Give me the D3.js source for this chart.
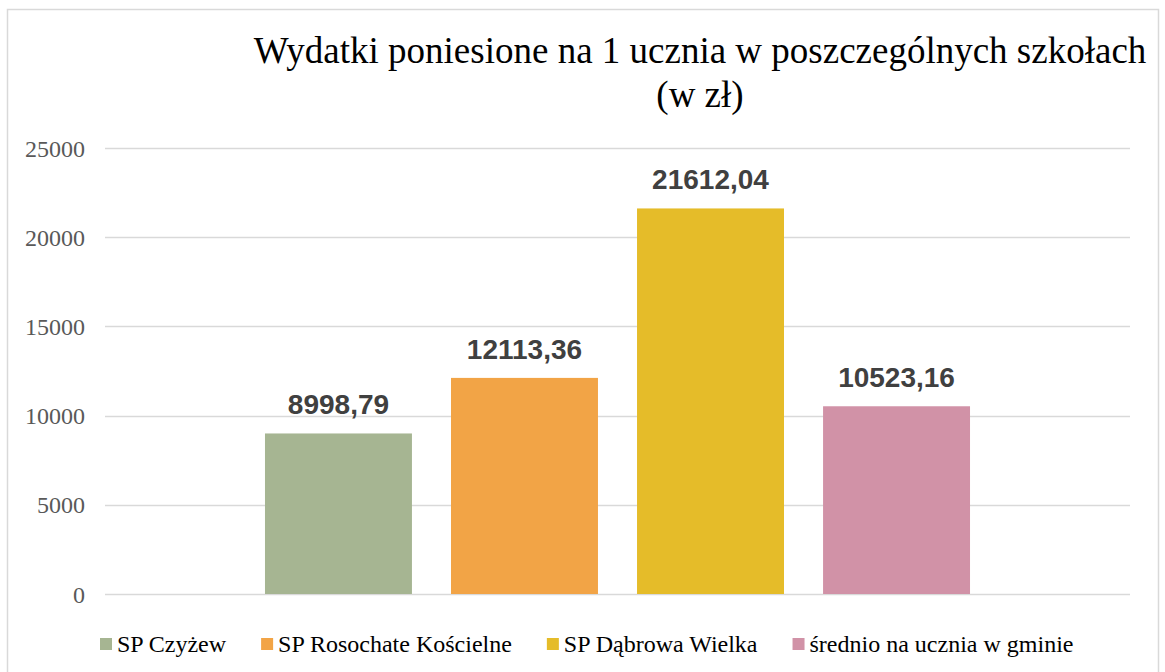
<!DOCTYPE html>
<html>
<head>
<meta charset="utf-8">
<script src="https://cdn.jsdelivr.net/npm/d3@7"></script>
<style>
  html, body { margin: 0; padding: 0; background: #fff; }
  svg { display: block; }
  .serif { font-family: "Liberation Serif", "Times New Roman", Times, serif; }
  .sans { font-family: "Liberation Sans", Arial, Helvetica, sans-serif; }
</style>
</head>
<body>
<svg id="chart" width="1165" height="672"></svg>
<script>
// Spending per pupil in each school (PLN)
const series = ["SP Czyżew", "SP Rosochate Kościelne", "SP Dąbrowa Wielka", "średnio na ucznia w gminie"];
const values = [8998.79, 12113.36, 21612.04, 10523.16];
const valueLabels = ["8998,79", "12113,36", "21612,04", "10523,16"];
const colors = ["#A6B592", "#F2A446", "#E5BC29", "#D192A7"];
const yTicks = [0, 5000, 10000, 15000, 20000, 25000];
const titleLines = ["Wydatki poniesione na 1 ucznia w poszczególnych szkołach", "(w zł)"];

const svg = d3.select("#chart");
const plot = { left: 105, right: 1130, top: 148, bottom: 594 };

// chart frame
svg.append("rect")
  .attr("x", 7.5).attr("y", 9.5)
  .attr("width", 1151).attr("height", 700)
  .attr("fill", "#fff")
  .attr("stroke", "#d9d9d9").attr("stroke-width", 1.5);

const y = d3.scaleLinear().domain([0, 25000]).range([plot.bottom, plot.top]);
const x = d3.scaleBand().domain(series)
  .range([plot.left, plot.right])
  .paddingInner(0.21)
  .paddingOuter(0.86);

// gridlines
svg.append("g")
  .selectAll("line")
  .data(yTicks)
  .join("line")
  .attr("x1", plot.left).attr("x2", plot.right)
  .attr("y1", d => Math.round(y(d)) + 0.5).attr("y2", d => Math.round(y(d)) + 0.5)
  .attr("stroke", "#d9d9d9").attr("stroke-width", 1.5);

// y axis labels
const yAxis = d3.axisLeft(y).tickValues(yTicks).tickSize(0).tickPadding(0).tickFormat(d3.format("d"));
const ya = svg.append("g").attr("transform", "translate(85,0)").call(yAxis)
  .attr("font-family", null).attr("font-size", null);
ya.select(".domain").remove();
ya.selectAll("text")
  .attr("class", "serif")
  .style("font-size", "24px")
  .attr("fill", "#595959")
  .attr("dy", "0.34em");

// bars
svg.append("g")
  .selectAll("rect")
  .data(series)
  .join("rect")
  .attr("x", d => x(d))
  .attr("width", x.bandwidth())
  .attr("y", (d, i) => y(values[i]))
  .attr("height", (d, i) => y(0) - y(values[i]))
  .attr("fill", (d, i) => colors[i]);

// value labels
svg.append("g")
  .selectAll("text")
  .data(series)
  .join("text")
  .attr("class", "sans")
  .attr("x", d => x(d) + x.bandwidth() / 2)
  .attr("y", (d, i) => y(values[i]) - 19)
  .attr("text-anchor", "middle")
  .style("font-weight", "bold")
  .style("font-size", "28px")
  .attr("fill", "#404040")
  .text((d, i) => valueLabels[i]);

// title
svg.append("g")
  .selectAll("text")
  .data(titleLines)
  .join("text")
  .attr("class", "serif")
  .attr("x", 700)
  .attr("y", (d, i) => 63 + i * 44)
  .attr("text-anchor", "middle")
  .style("font-size", "37px")
  .attr("fill", "#000")
  .text(d => d);

// legend
const legend = svg.append("g");
let lx = 100;
series.forEach((s, i) => {
  legend.append("rect")
    .attr("x", lx).attr("y", 638)
    .attr("width", 12).attr("height", 12)
    .attr("fill", colors[i]);
  const t = legend.append("text")
    .attr("class", "serif")
    .attr("x", lx + 17).attr("y", 652)
    .style("font-size", "24px")
    .attr("fill", "#000")
    .text(s);
  lx += 17 + t.node().getComputedTextLength() + 35;
});
</script>
</body>
</html>
